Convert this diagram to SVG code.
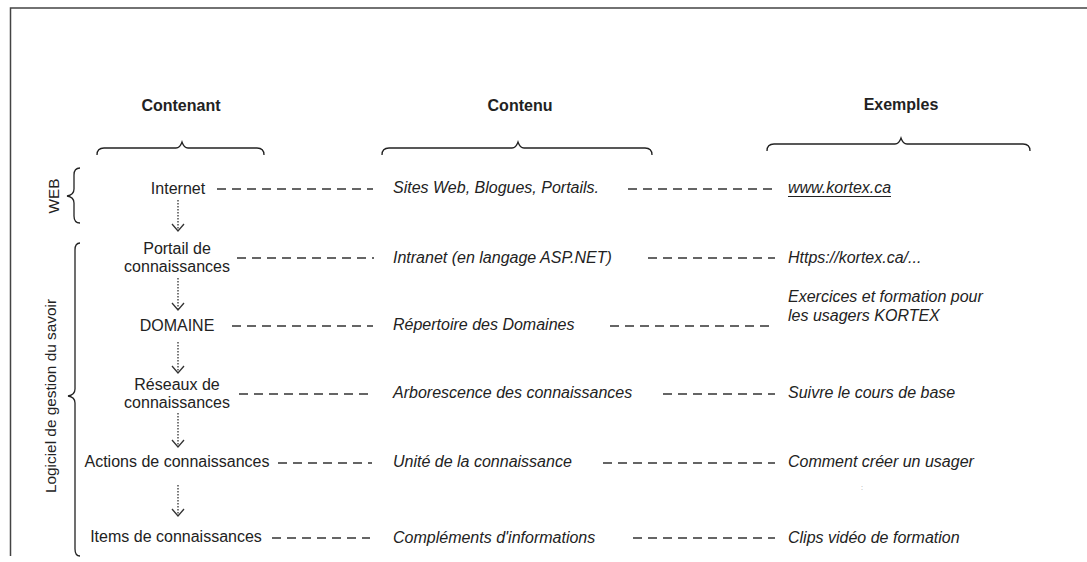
<svg xmlns="http://www.w3.org/2000/svg" width="1087" height="562" viewBox="0 0 1087 562">
  <style>
    text { font-family: "Liberation Sans", Arial, sans-serif; font-size: 16px; fill: #222; }
    .head { font-weight: bold; text-anchor: middle; }
    .node { text-anchor: middle; }
    .side { text-anchor: middle; font-size: 15.4px; }
    .it { font-style: italic; }
    .brace { fill: none; stroke: #222; stroke-width: 1.3; }
    .dash { fill: none; stroke: #333; stroke-width: 1.3; stroke-dasharray: 9 6; }
    .dot { fill: none; stroke: #333; stroke-width: 1.3; stroke-dasharray: 1.5 1.5; }
    .frame { fill: none; stroke: #444; stroke-width: 1.5; }
  </style>
  <defs>
    <!-- open chevron head, drawn along +x so orient="auto" follows the line -->
    <marker id="chevron" viewBox="0 0 9 14" refX="8" refY="7" markerWidth="9" markerHeight="14" markerUnits="userSpaceOnUse" orient="auto">
      <path d="M1,1 L8,7 L1,13" fill="none" stroke="#333" stroke-width="1.3"/>
    </marker>
  </defs>
  <rect width="1087" height="562" fill="#fff"/>

  <!-- frame -->
  <path class="frame" d="M1087,8 L10.5,8 L10.5,556"/>

  <!-- column headings with their braces -->
  <g id="headings">
    <text class="head" x="181" y="111">Contenant</text>
    <text class="head" x="520" y="111">Contenu</text>
    <text class="head" x="901" y="110">Exemples</text>
    <path class="brace" d="M97,155 Q97,148 104,148 L176,148 Q180,148 182,142 Q184,148 188,148 L257,148 Q264,148 264,155"/>
    <path class="brace" d="M382,155 Q382,148 389,148 L512,148 Q516,148 518,142 Q520,148 524,148 L645,148 Q652,148 652,155"/>
    <path class="brace" d="M767,151 Q767,144 774,144 L895,144 Q899,144 901,138 Q903,144 907,144 L1023,144 Q1030,144 1030,151"/>
  </g>

  <!-- side groupings -->
  <g id="group-web">
    <path class="brace" d="M80,168 Q74,168 74,175 L74,189 Q74,195 67,196 Q74,197 74,203 L74,216 Q74,223 80,223"/>
    <text transform="translate(59,196) rotate(-90)" class="side">WEB</text>
  </g>
  <g id="group-logiciel">
    <path class="brace" d="M80,243 Q75,243 75,250 L75,389 Q75,395 68,396 Q75,397 75,403 L75,549 Q75,556 80,556"/>
    <text transform="translate(56,396) rotate(-90)" class="side">Logiciel de gestion du savoir</text>
  </g>

  <!-- container column -->
  <g id="n-internet"><text class="node" x="178" y="194">Internet</text></g>
  <g id="n-portail">
    <text class="node" x="177" y="254">Portail de</text>
    <text class="node" x="177" y="272">connaissances</text>
  </g>
  <g id="n-domaine"><text class="node" x="177" y="331">DOMAINE</text></g>
  <g id="n-reseaux">
    <text class="node" x="177" y="390">Réseaux de</text>
    <text class="node" x="177" y="408">connaissances</text>
  </g>
  <g id="n-actions"><text class="node" x="177" y="467">Actions de connaissances</text></g>
  <g id="n-items"><text class="node" x="176" y="542">Items de connaissances</text></g>

  <!-- content column -->
  <g id="c-sites"><text class="it" x="393" y="193">Sites Web, Blogues, Portails.</text></g>
  <g id="c-intranet"><text class="it" x="393" y="263">Intranet (en langage ASP.NET)</text></g>
  <g id="c-repertoire"><text class="it" x="393" y="330">Répertoire des Domaines</text></g>
  <g id="c-arborescence"><text class="it" x="393" y="398">Arborescence des connaissances</text></g>
  <g id="c-unite"><text class="it" x="393" y="467">Unité de la connaissance</text></g>
  <g id="c-complements"><text class="it" x="393" y="543">Compléments d'informations</text></g>

  <!-- examples column -->
  <g id="e-www">
    <text class="it" x="788" y="193">www.kortex.ca</text>
    <line x1="788" y1="196.5" x2="891" y2="196.5" stroke="#222" stroke-width="1"/>
  </g>
  <g id="e-https"><text class="it" x="788" y="263">Https://kortex.ca/...</text></g>
  <g id="e-exercices">
    <text class="it" x="788" y="302">Exercices et formation pour</text>
    <text class="it" x="788" y="321">les usagers KORTEX</text>
  </g>
  <g id="e-suivre"><text class="it" x="788" y="398">Suivre le cours de base</text></g>
  <g id="e-comment">
    <text class="it" x="788" y="467">Comment créer un usager</text>
    <text x="861" y="490" style="font-size:7px;fill:#999">:</text>
  </g>
  <g id="e-clips"><text class="it" x="788" y="543">Clips vidéo de formation</text></g>

  <!-- connectors -->
  <g id="connectors">
    <!-- hierarchy (dotted arrows) -->
    <line class="dot" x1="178" y1="200" x2="178" y2="231" marker-end="url(#chevron)"/>
    <line class="dot" x1="178" y1="278" x2="178" y2="310" marker-end="url(#chevron)"/>
    <line class="dot" x1="178" y1="342" x2="178" y2="373" marker-end="url(#chevron)"/>
    <line class="dot" x1="178" y1="413" x2="178" y2="447" marker-end="url(#chevron)"/>
    <line class="dot" x1="178" y1="485" x2="178" y2="516" marker-end="url(#chevron)"/>
    <!-- container to content -->
    <line class="dash" x1="217" y1="189" x2="373" y2="189"/>
    <line class="dash" x1="237" y1="258" x2="374" y2="258"/>
    <line class="dash" x1="232" y1="326" x2="373" y2="326"/>
    <line class="dash" x1="239" y1="394" x2="372" y2="394"/>
    <line class="dash" x1="278" y1="463" x2="372" y2="463"/>
    <line class="dash" x1="272" y1="538" x2="370" y2="538"/>
    <!-- content to examples -->
    <line class="dash" x1="628" y1="189" x2="775" y2="189"/>
    <line class="dash" x1="648" y1="258" x2="775" y2="258"/>
    <line class="dash" x1="610" y1="326" x2="775" y2="326"/>
    <line class="dash" x1="663" y1="394" x2="775" y2="394"/>
    <line class="dash" x1="603" y1="463" x2="775" y2="463"/>
    <line class="dash" x1="633" y1="538" x2="775" y2="538"/>
  </g>
</svg>
